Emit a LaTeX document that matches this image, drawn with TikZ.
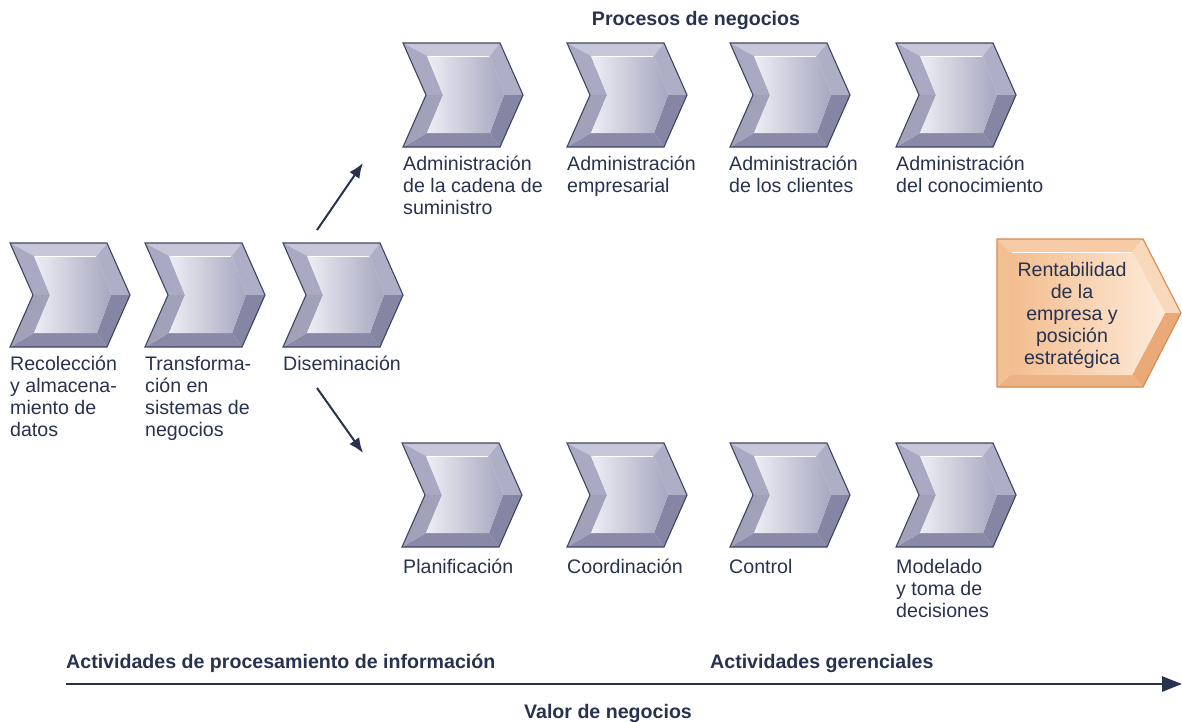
\documentclass[tikz,border=0pt]{standalone}
\usepackage{fontspec}
\setmainfont{Liberation Sans}
\usetikzlibrary{arrows.meta}
\definecolor{navy}{HTML}{27324F}
\definecolor{edge}{HTML}{3C4766}
\definecolor{cTop}{HTML}{C6C6D8}
\definecolor{cRU}{HTML}{AEAEC6}
\definecolor{cRL}{HTML}{8585A4}
\definecolor{cBot}{HTML}{8A8AA8}
\definecolor{cL}{HTML}{A9A9C3}
\definecolor{faceL}{HTML}{EEEEF4}
\definecolor{faceR}{HTML}{A6A6C0}
\definecolor{oEdge}{HTML}{D9894F}
\definecolor{oTop}{HTML}{F6CBA6}
\definecolor{oRU}{HTML}{F9D9BB}
\definecolor{oRL}{HTML}{E9AA78}
\definecolor{oBot}{HTML}{ECB283}
\definecolor{oL}{HTML}{F3C096}
\definecolor{ofaceL}{HTML}{F3BD8F}
\definecolor{ofaceR}{HTML}{FDEBD9}
\newcommand{\chevshape}[3]{%
\begin{scope}[shift={(#1,#2)}]
 \fill[cTop] (0,0) -- (97,0) -- (87,13) -- (24,13) -- cycle;
 \fill[cRU] (97,0) -- (120,52) -- (101,52) -- (87,13) -- cycle;
 \fill[cRL] (120,52) -- (97,104) -- (87,90) -- (101,52) -- cycle;
 \fill[cBot] (97,104) -- (0,104) -- (24,90) -- (87,90) -- cycle;
 \fill[cL] (0,0) -- (24,13) -- (40,52) -- (23,52) -- cycle;
 \fill[cL!95!black] (23,52) -- (40,52) -- (24,90) -- (0,104) -- cycle;
 \shade[left color=faceL, right color=faceR] (24,13) -- (87,13) -- (101,52) -- (87,90) -- (24,90) -- (40,52) -- cycle;
 \draw[white, line width=0.9pt] (26,13.5) -- (86,13.5);
 \draw[edge, line width=1.1pt, line join=miter] (0,0) -- (97,0) -- (120,52) -- (97,104) -- (0,104) -- (23,52) -- cycle;
 \coordinate (#3) at (60,52);
\end{scope}}
\tikzset{
 lbl/.style={anchor=north west, inner sep=0pt, align=left, text=navy, font=\fontsize{19.6}{22}\selectfont},
 ttl/.style={anchor=base, inner sep=0pt, text=navy, font=\fontsize{19.6}{22}\selectfont\bfseries},
 ttlw/.style={anchor=base west, inner sep=0pt, text=navy, font=\fontsize{19.6}{22}\selectfont\bfseries},
 flow/.style={navy, line width=2pt, -{Latex[length=15pt,width=12pt]}},
}
\newcommand{\st}{\rule{0pt}{15pt}}
\begin{document}
\begin{tikzpicture}[x=1pt,y=-1pt]
\useasboundingbox (0,0) rectangle (1182,721);
% middle row
\chevshape{10}{243}{c1}
\chevshape{145}{243}{c2}
\chevshape{283}{243}{c3}
% top row
\chevshape{403}{43}{t1}
\chevshape{567}{43}{t2}
\chevshape{730}{43}{t3}
\chevshape{896}{43}{t4}
% bottom row
\chevshape{402}{443}{b1}
\chevshape{567}{443}{b2}
\chevshape{730}{443}{b3}
\chevshape{896}{443}{b4}
% orange
\begin{scope}
 \fill[oTop] (997,239) -- (1143,239) -- (1132,252) -- (1010,252) -- cycle;
 \fill[oRU] (1143,239) -- (1181,313) -- (1165,313) -- (1132,252) -- cycle;
 \fill[oRL] (1181,313) -- (1143,387) -- (1132,375) -- (1165,313) -- cycle;
 \fill[oBot] (1143,387) -- (997,387) -- (1010,375) -- (1132,375) -- cycle;
 \fill[oL] (997,239) -- (1010,252) -- (1010,375) -- (997,387) -- cycle;
 \shade[left color=ofaceL, right color=ofaceR] (1010,252) -- (1132,252) -- (1165,313) -- (1132,375) -- (1010,375) -- cycle;
 \draw[white, line width=0.9pt] (1012,252.5) -- (1131,252.5);
 \draw[oEdge, line width=1.1pt] (997,239) -- (1143,239) -- (1181,313) -- (1143,387) -- (997,387) -- cycle;
\end{scope}
\node[anchor=north, inner sep=0pt, align=center, text=navy, font=\fontsize{19.6}{22}\selectfont] (rent) at (1072,261) {\st Rentabilidad\\de la\\empresa y\\posición\\estratégica};
% labels
\node[lbl] (l1) at (10,355) {\st Recolección\\y almacena-\\miento de\\datos};
\node[lbl] (l2) at (145,355) {\st Transforma-\\ción en\\sistemas de\\negocios};
\node[lbl] (l3) at (283,355) {\st Diseminación};
\node[lbl] (lt1) at (403,155) {\st Administración\\de la cadena de\\suministro};
\node[lbl] (lt2) at (567,155) {\st Administración\\empresarial};
\node[lbl] (lt3) at (729,155) {\st Administración\\de los clientes};
\node[lbl] (lt4) at (896,155) {\st Administración\\del conocimiento};
\node[lbl] (lb1) at (403,558) {\st Planificación};
\node[lbl] (lb2) at (567,558) {\st Coordinación};
\node[lbl] (lb3) at (729,558) {\st Control};
\node[lbl] (lb4) at (896,558) {\st Modelado\\y toma de\\decisiones};
% titles
\node[ttl] (tp) at (696,25) {Procesos de negocios};
\node[ttlw] (ta) at (66,668) {Actividades de procesamiento de información};
\node[ttlw] (tg) at (710,668) {Actividades gerenciales};
\node[ttl] (tv) at (608,718) {Valor de negocios};
% arrows
\coordinate (u0) at (317,230);
\coordinate (u1) at (363,163);
\coordinate (d0) at (317,388);
\coordinate (d1) at (363,453);
\draw[flow] (u0) -- (u1);
\draw[flow] (d0) -- (d1);
\coordinate (a0) at (66,684);
\coordinate (a1) at (1182,684);
\draw[navy, line width=2.7pt, -{Triangle[length=20pt,width=15pt]}] (a0) -- (a1);
\end{tikzpicture}
\end{document}
